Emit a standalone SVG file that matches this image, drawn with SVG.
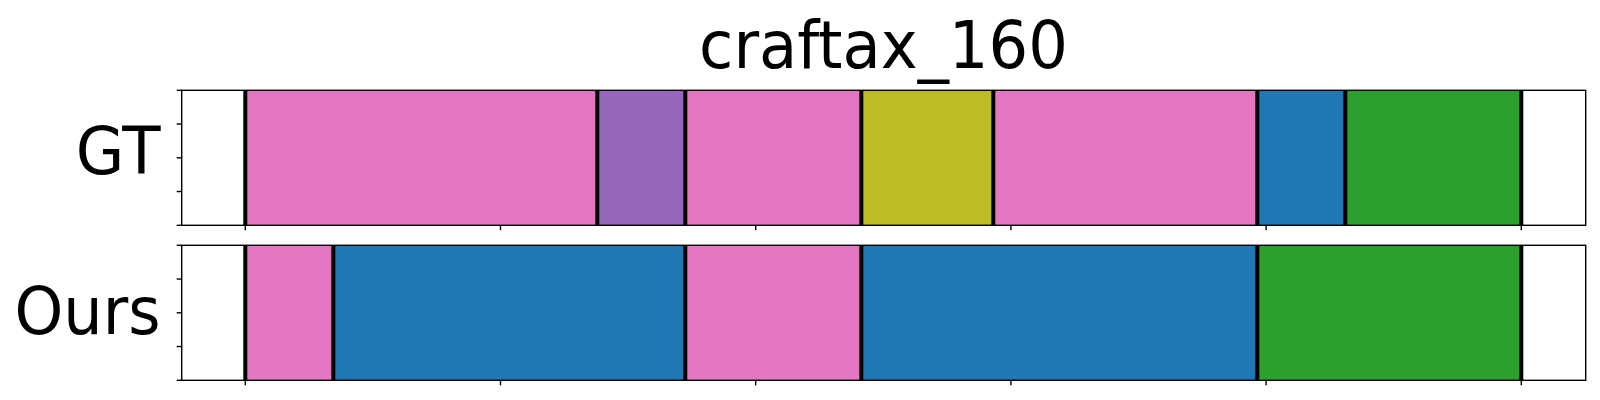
<svg xmlns="http://www.w3.org/2000/svg" width="1600" height="400" viewBox="0 0 1600 400">
<style>
.lbl{font-family:"DejaVu Sans",sans-serif;font-size:66px;fill:#000}
.spine{fill:none;stroke:#000;stroke-width:1.4}
.tick{stroke:#000;stroke-width:1.4}
.bnd{stroke:#000;stroke-width:4}
.pink{fill:#e377c2}.purple{fill:#9467bd}.olive{fill:#bcbd22}.blue{fill:#1f77b4}.green{fill:#2ca02c}
</style>
<rect width="1600" height="400" fill="#fff"/>
<text id="title" class="lbl" text-anchor="middle" transform="translate(883.5,67.5) scale(0.945,1)">craftax_160</text>

<g id="gt">
<text class="lbl" text-anchor="end" transform="translate(160.5,174.3) scale(0.95,1)">GT</text>
<rect class="pink" x="245.3" y="90.3" width="352" height="135"/>
<rect class="purple" x="597.3" y="90.3" width="88" height="135"/>
<rect class="pink" x="685.3" y="90.3" width="176" height="135"/>
<rect class="olive" x="861.3" y="90.3" width="132" height="135"/>
<rect class="pink" x="993.3" y="90.3" width="264" height="135"/>
<rect class="blue" x="1257.3" y="90.3" width="88" height="135"/>
<rect class="green" x="1345.3" y="90.3" width="176" height="135"/>
<g class="bnd">
<line x1="245.3" y1="90.3" x2="245.3" y2="225.3"/>
<line x1="597.3" y1="90.3" x2="597.3" y2="225.3"/>
<line x1="685.3" y1="90.3" x2="685.3" y2="225.3"/>
<line x1="861.3" y1="90.3" x2="861.3" y2="225.3"/>
<line x1="993.3" y1="90.3" x2="993.3" y2="225.3"/>
<line x1="1257.3" y1="90.3" x2="1257.3" y2="225.3"/>
<line x1="1345.3" y1="90.3" x2="1345.3" y2="225.3"/>
<line x1="1521.3" y1="90.3" x2="1521.3" y2="225.3"/>
</g>
<rect class="spine" x="181.7" y="90.3" width="1404" height="135"/>
<g class="tick">
<line x1="176.7" y1="90.3" x2="181.7" y2="90.3"/>
<line x1="176.7" y1="124.05" x2="181.7" y2="124.05"/>
<line x1="176.7" y1="157.8" x2="181.7" y2="157.8"/>
<line x1="176.7" y1="191.55" x2="181.7" y2="191.55"/>
<line x1="176.7" y1="225.3" x2="181.7" y2="225.3"/>
<line x1="245.3" y1="225.3" x2="245.3" y2="230.3"/>
<line x1="500.5" y1="225.3" x2="500.5" y2="230.3"/>
<line x1="755.7" y1="225.3" x2="755.7" y2="230.3"/>
<line x1="1010.9" y1="225.3" x2="1010.9" y2="230.3"/>
<line x1="1266.1" y1="225.3" x2="1266.1" y2="230.3"/>
<line x1="1521.3" y1="225.3" x2="1521.3" y2="230.3"/>
</g>
</g>

<g id="ours">
<text class="lbl" text-anchor="end" transform="translate(160.5,334.3) scale(0.94,1)">Ours</text>
<rect class="pink" x="245.3" y="245.3" width="88" height="135"/>
<rect class="blue" x="333.3" y="245.3" width="352" height="135"/>
<rect class="pink" x="685.3" y="245.3" width="176" height="135"/>
<rect class="blue" x="861.3" y="245.3" width="396" height="135"/>
<rect class="green" x="1257.3" y="245.3" width="264" height="135"/>
<g class="bnd">
<line x1="245.3" y1="245.3" x2="245.3" y2="380.3"/>
<line x1="333.3" y1="245.3" x2="333.3" y2="380.3"/>
<line x1="685.3" y1="245.3" x2="685.3" y2="380.3"/>
<line x1="861.3" y1="245.3" x2="861.3" y2="380.3"/>
<line x1="1257.3" y1="245.3" x2="1257.3" y2="380.3"/>
<line x1="1521.3" y1="245.3" x2="1521.3" y2="380.3"/>
</g>
<rect class="spine" x="181.7" y="245.3" width="1404" height="135"/>
<g class="tick">
<line x1="176.7" y1="245.3" x2="181.7" y2="245.3"/>
<line x1="176.7" y1="279.05" x2="181.7" y2="279.05"/>
<line x1="176.7" y1="312.8" x2="181.7" y2="312.8"/>
<line x1="176.7" y1="346.55" x2="181.7" y2="346.55"/>
<line x1="176.7" y1="380.3" x2="181.7" y2="380.3"/>
<line x1="245.3" y1="380.3" x2="245.3" y2="385.3"/>
<line x1="500.5" y1="380.3" x2="500.5" y2="385.3"/>
<line x1="755.7" y1="380.3" x2="755.7" y2="385.3"/>
<line x1="1010.9" y1="380.3" x2="1010.9" y2="385.3"/>
<line x1="1266.1" y1="380.3" x2="1266.1" y2="385.3"/>
<line x1="1521.3" y1="380.3" x2="1521.3" y2="385.3"/>
</g>
</g>
</svg>
